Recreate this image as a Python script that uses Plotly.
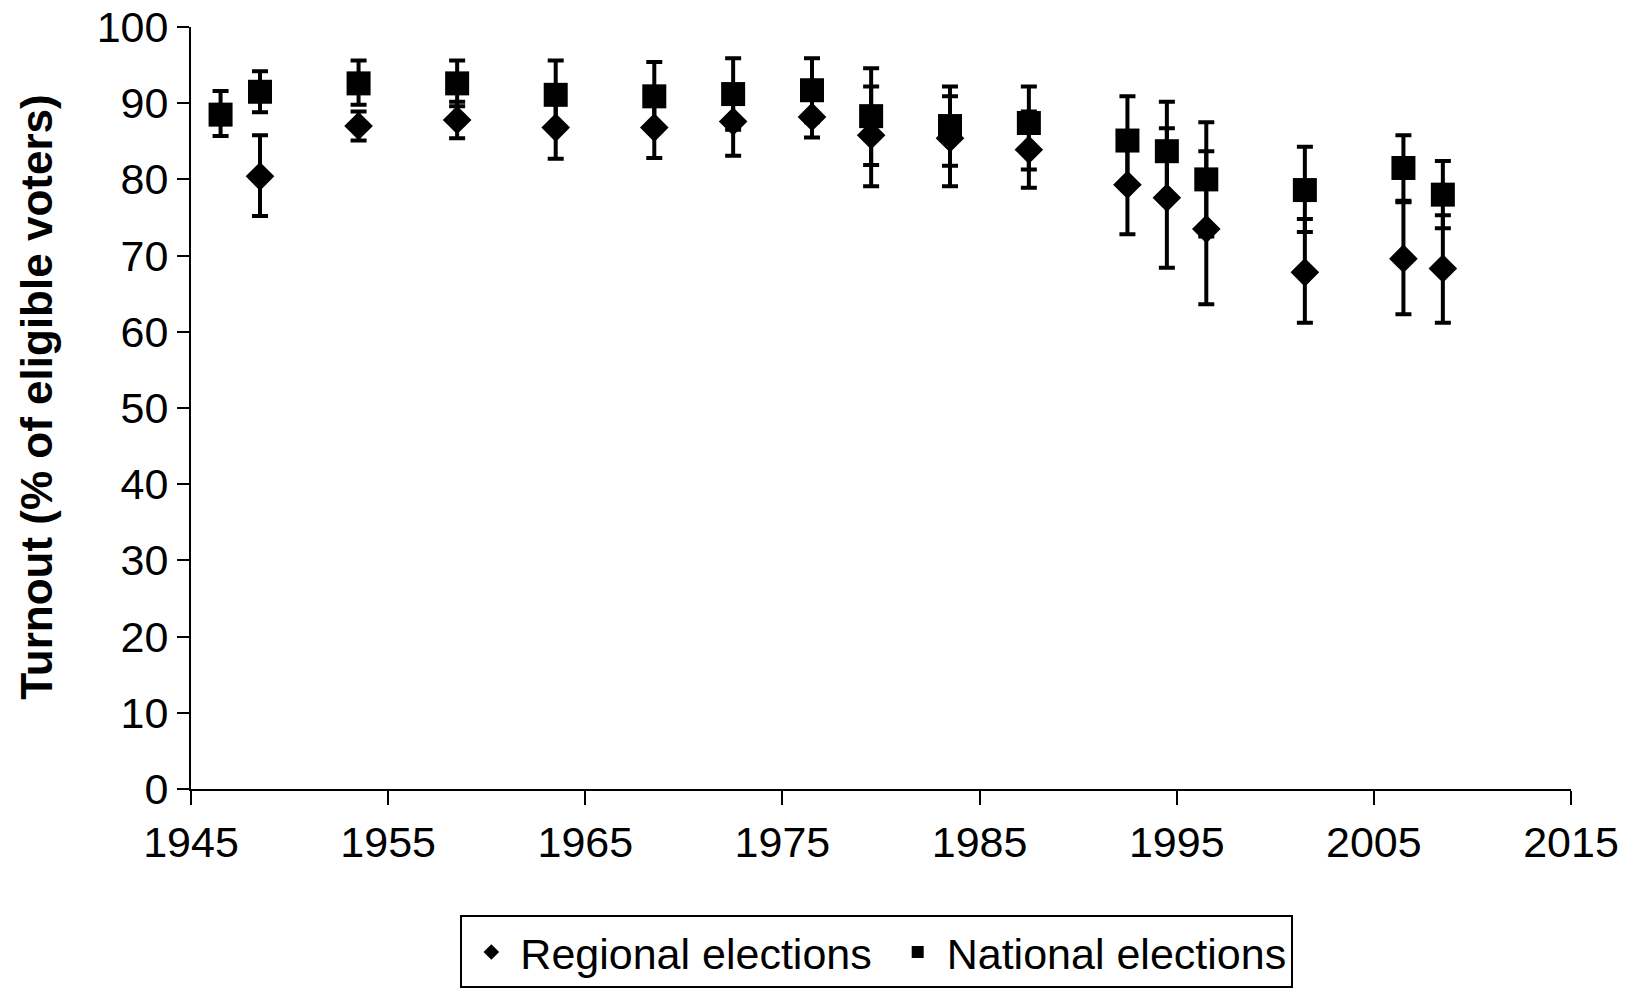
import plotly.graph_objects as go

years = [1946.5, 1948.5, 1953.5, 1958.5, 1963.5, 1968.5, 1972.5, 1976.5, 1979.5,
         1983.5, 1987.5, 1992.5, 1994.5, 1996.5, 2001.5, 2006.5, 2008.5]

national = [88.5, 91.5, 92.6, 92.6, 91.1, 90.9, 91.2, 91.7, 88.3, 87.0, 87.4, 85.1, 83.7, 80.0, 78.6, 81.5, 78.0]
national_hi = [91.6, 94.2, 95.6, 95.6, 95.6, 95.4, 95.9, 95.9, 94.6, 92.2, 92.2, 90.9, 90.2, 87.5, 84.3, 85.8, 82.4]
national_lo = [85.7, 88.8, 89.8, 89.6, 86.6, 86.3, 86.5, 87.5, 81.9, 81.8, 81.3, 79.4, 77.2, 72.5, 73.1, 77.2, 73.6]

regional = [None, 80.4, 87.0, 87.8, 86.8, 86.8, 87.6, 88.2, 85.8, 85.4, 83.9, 79.3, 77.6, 73.5, 67.8, 69.6, 68.3]
regional_hi = [None, 85.8, 88.9, 90.2, 90.9, 90.8, 92.1, 90.9, 92.2, 90.9, 88.9, 85.8, 86.7, 83.7, 74.8, 77.0, 75.3]
regional_lo = [None, 75.2, 85.1, 85.4, 82.7, 82.8, 83.1, 85.5, 79.1, 79.1, 78.9, 72.8, 68.4, 63.6, 61.2, 62.3, 61.2]

x_ticks = [1945, 1955, 1965, 1975, 1985, 1995, 2005, 2015]
y_ticks = [0, 10, 20, 30, 40, 50, 60, 70, 80, 90, 100]

y_title = "Turnout (% of eligible voters)"

FONT = "Liberation Sans, Arial, sans-serif"

# regional: drop missing entries
r_idx = [i for i, v in enumerate(regional) if v is not None]
rx = [years[i] for i in r_idx]
ry = [regional[i] for i in r_idx]
r_plus = [regional_hi[i] - regional[i] for i in r_idx]
r_minus = [regional[i] - regional_lo[i] for i in r_idx]

n_plus = [h - v for h, v in zip(national_hi, national)]
n_minus = [v - l for v, l in zip(national, national_lo)]

fig = go.Figure()
fig.add_trace(go.Scatter(
    x=rx, y=ry, mode="markers", name="Regional elections\u00a0",
    marker=dict(symbol="diamond", size=22, color="black"),
    error_y=dict(type="data", symmetric=False, array=r_plus, arrayminus=r_minus,
                 color="black", thickness=4, width=8),
))
fig.add_trace(go.Scatter(
    x=years, y=national, mode="markers", name="National elections",
    marker=dict(symbol="square", size=24, color="black"),
    error_y=dict(type="data", symmetric=False, array=n_plus, arrayminus=n_minus,
                 color="black", thickness=4, width=8),
))

fig.update_layout(
    width=1634, height=989,
    margin=dict(l=183, r=71, t=19, b=208, autoexpand=False),
    paper_bgcolor="white", plot_bgcolor="white",
    font=dict(family=FONT, size=43, color="black"),
    showlegend=True,
    legend=dict(orientation="h", x=0.497, xanchor="center", y=-0.166, yanchor="top",
                bordercolor="black", borderwidth=2, bgcolor="white",
                font=dict(size=43), itemsizing="constant", itemwidth=48),
    annotations=[dict(
        text="<b>" + y_title + "</b>", textangle=-90, xref="paper", yref="paper",
        x=-0.112, y=0.514, xanchor="center", yanchor="middle", showarrow=False,
        font=dict(size=44, family=FONT, color="black"),
    )],
)
fig.update_xaxes(
    range=[1945, 2015], tickvals=x_ticks, ticktext=[str(t) for t in x_ticks],
    showgrid=False, zeroline=False, showline=True, linecolor="black", linewidth=2,
    ticks="outside", ticklen=14, tickwidth=2, tickcolor="black",
    ticklabelstandoff=0, automargin=False, ticklabeloverflow="allow",
)
fig.update_yaxes(
    range=[0, 100], tickvals=y_ticks, ticktext=[str(t) for t in y_ticks],
    showgrid=False, zeroline=False, showline=True, linecolor="black", linewidth=2,
    ticks="outside", ticklen=12, tickwidth=2, tickcolor="black", automargin=False,
    ticklabeloverflow="allow",
)

fig.write_html("out.html")
